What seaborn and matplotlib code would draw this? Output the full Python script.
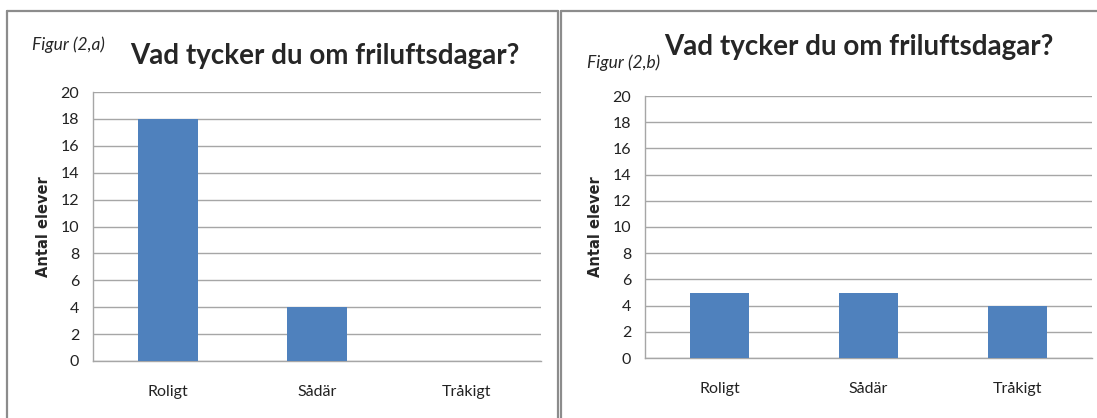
import pandas as pd
import matplotlib
matplotlib.use("Agg")
import matplotlib.pyplot as plt
import seaborn as sns
from matplotlib.lines import Line2D

# Survey answers, two classes
categories = ["Roligt", "Sådär", "Tråkigt"]
counts_a = [18, 4, 0]
counts_b = [5, 5, 4]
y_ticks = [0, 2, 4, 6, 8, 10, 12, 14, 16, 18, 20]

title = "Vad tycker du om friluftsdagar?"
ylabel = "Antal elever"
bar_color = "#4f81bd"
grid_color = "#a6a6a6"

sns.set_style("white")
plt.rcParams["font.family"] = ["Lato", "DejaVu Sans"]

W, H = 1097, 418
fig = plt.figure(figsize=(W / 100, H / 100), dpi=100)


def px_axes(left, top, right, bottom):
    return fig.add_axes([left / W, 1 - bottom / H, (right - left) / W, (bottom - top) / H])


def draw_panel(ax, counts):
    df = pd.DataFrame({"answer": categories, "count": counts})
    sns.barplot(data=df, x="answer", y="count", color=bar_color, width=0.4,
                saturation=1, linewidth=0, ax=ax, zorder=3)
    ax.set_ylim(0, 20)
    ax.set_xlim(-0.5, 2.5)
    ax.set_yticks(y_ticks)
    ax.yaxis.grid(True, color=grid_color, linewidth=1)
    ax.set_axisbelow(True)
    for side in ["top", "right"]:
        ax.spines[side].set_visible(False)
    for side in ["left", "bottom"]:
        ax.spines[side].set_color(grid_color)
        ax.spines[side].set_linewidth(1)
    ax.tick_params(axis="y", length=0, pad=10, labelsize=11.5, labelcolor="#222222")
    ax.tick_params(axis="x", length=0, pad=17, labelsize=11.5, labelcolor="#222222")
    ax.set_xlabel("")
    ax.set_ylabel(ylabel, fontsize=10.5, fontweight="bold", family="DejaVu Sans", labelpad=7)


ax_a = px_axes(93, 92, 541, 361)
draw_panel(ax_a, counts_a)
ax_b = px_axes(645, 96, 1092, 358)
draw_panel(ax_b, counts_b)

# titles and figure tags
fig.text(325 / W, 1 - 56 / H, title, fontsize=20, fontweight="bold", ha="center", va="center")
fig.text(859 / W, 1 - 47 / H, title, fontsize=20, fontweight="bold", ha="center", va="center")
fig.text(32 / W, 1 - 45 / H, "Figur (2,a)", fontsize=12.5, style="italic", ha="left", va="center")
fig.text(587 / W, 1 - 63 / H, "Figur (2,b)", fontsize=12.5, style="italic", ha="left", va="center")

# panel frames
frame = dict(color="#8c8c8c", linewidth=1.6, transform=fig.transFigure)
fig.add_artist(Line2D([7 / W, 558 / W], [1 - 11 / H, 1 - 11 / H], **frame))
fig.add_artist(Line2D([7 / W, 7 / W], [1 - 11 / H, 0], **frame))
fig.add_artist(Line2D([558 / W, 558 / W], [1 - 11 / H, 0], **frame))
fig.add_artist(Line2D([561 / W, 1], [1 - 11 / H, 1 - 11 / H], **frame))
fig.add_artist(Line2D([561 / W, 561 / W], [1 - 11 / H, 0], **frame))

fig.savefig("out.png", dpi=100)
